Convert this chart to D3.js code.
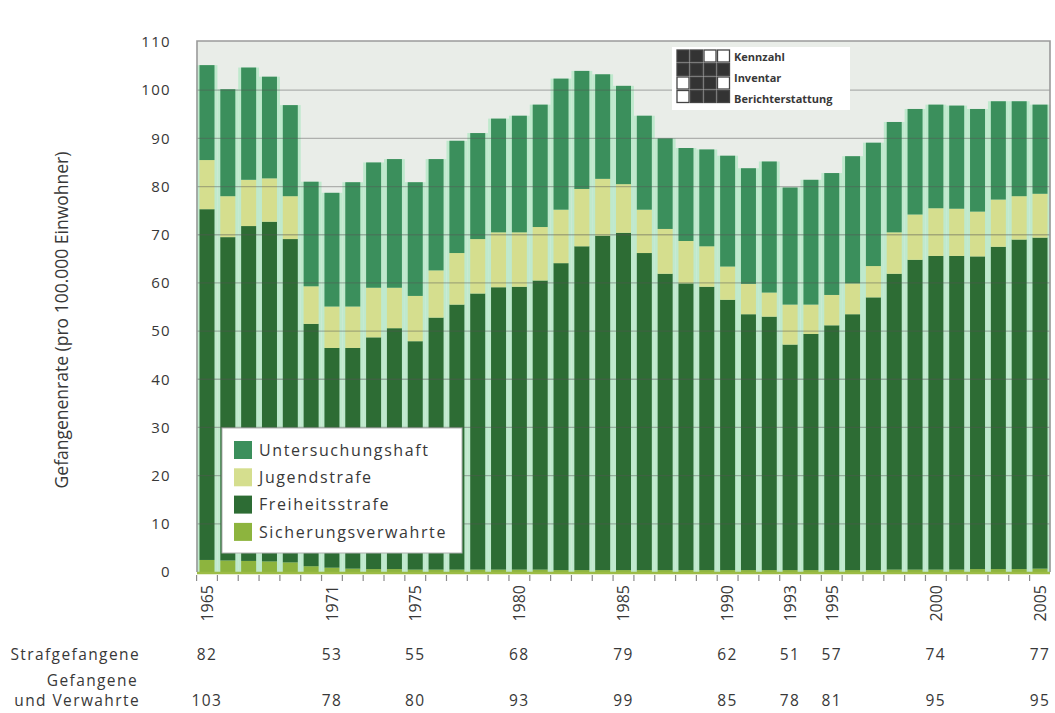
<!DOCTYPE html>
<html><head><meta charset="utf-8">
<script src="https://cdn.jsdelivr.net/npm/d3@7/dist/d3.min.js"></script>
<style>
body{margin:0;background:#fff}
svg{display:block}
text{font-family:"Open Sans",sans-serif;fill:#383838}
</style>
</head><body>
<svg id="chart" width="1055" height="713"></svg>
<script>
// ---- data ----
const years = [1965,1966,1967,1968,1969,1970,1971,1972,1973,1974,1975,1976,1977,1978,1979,1980,
  1981,1982,1983,1984,1985,1986,1987,1988,1989,1990,1991,1992,1993,1994,1995,1996,1997,1998,1999,
  2000,2001,2002,2003,2004,2005];
const sicherungsverwahrte = [2.5,2.4,2.3,2.2,2.0,1.2,0.9,0.7,0.6,0.6,0.5,0.5,0.5,0.5,0.5,0.5,
  0.5,0.4,0.4,0.4,0.4,0.4,0.4,0.4,0.4,0.4,0.4,0.4,0.4,0.4,0.4,0.4,0.4,0.5,0.5,
  0.5,0.5,0.6,0.6,0.6,0.7];
const freiheitsstrafe = [72.8,67.1,69.5,70.5,67.1,50.3,45.6,45.8,48.1,50.0,47.4,52.3,55.0,57.3,58.6,58.7,
  60.0,63.7,67.2,69.4,70.0,65.8,61.5,59.5,58.8,56.1,53.1,52.6,46.8,49.0,50.8,53.1,56.6,61.4,64.3,
  65.1,65.1,64.9,66.9,68.4,68.7];
const jugendstrafe = [10.2,8.5,9.6,9.0,8.9,7.8,8.6,8.6,10.3,8.4,9.4,9.8,10.7,11.3,11.4,11.3,
  11.1,11.1,11.9,11.8,10.1,9.0,9.3,8.8,8.4,6.9,6.3,5.0,8.3,6.1,6.3,6.4,6.5,8.6,9.4,
  9.9,9.8,9.3,9.8,9.0,9.1];
const untersuchungshaft = [19.7,22.2,23.3,21.1,18.9,21.7,23.6,25.8,26.0,26.7,23.6,23.1,23.3,22.0,23.6,24.2,
  25.4,27.2,24.5,21.7,20.4,19.5,18.8,19.3,20.1,23.0,24.0,27.2,24.3,25.9,25.3,26.4,25.6,22.9,21.9,
  21.5,21.4,21.3,20.4,19.7,18.5];
const yTicks = [0,10,20,30,40,50,60,70,80,90,100,110];
const labelYears = [1965,1971,1975,1980,1985,1990,1993,1995,2000,2005];
const strafgefangene = [82,53,55,68,79,62,51,57,74,77];
const gefangeneVerwahrte = [103,78,80,93,99,85,78,81,95,95];
const seriesKeys = ["Sicherungsverwahrte","Freiheitsstrafe","Jugendstrafe","Untersuchungshaft"];
const legendOrder = ["Untersuchungshaft","Jugendstrafe","Freiheitsstrafe","Sicherungsverwahrte"];
const boxLabels = ["Kennzahl","Inventar","Berichterstattung"];
const iconPattern = [[1,1,0,0],[1,1,1,1],[0,1,1,0],[0,1,1,1]];

// ---- styles ----
const colors = {
  "Untersuchungshaft":"#3b8f5c",
  "Jugendstrafe":"#d5de8e",
  "Freiheitsstrafe":"#2d6c34",
  "Sicherungsverwahrte":"#8db43e"
};
const M = {left:197, right:1050, top:42, bottom:572};

const rows = years.map((yr,i)=>({year:yr,
  Sicherungsverwahrte:sicherungsverwahrte[i],
  Freiheitsstrafe:freiheitsstrafe[i],
  Jugendstrafe:jugendstrafe[i],
  Untersuchungshaft:untersuchungshaft[i]}));
const stacked = d3.stack().keys(seriesKeys)(rows);

const svg = d3.select("#chart");
const x = d3.scaleBand().domain(years).range([M.left, M.right]).paddingInner(0.28).paddingOuter(0.12);
const y = d3.scaleLinear().domain([0,110]).range([M.bottom, M.top]);
const step = x.step();
const gapHalf = (step - x.bandwidth())/2;

// plot background
svg.append("rect").attr("x",M.left).attr("y",M.top-1).attr("width",M.right-M.left).attr("height",M.bottom-M.top+1)
  .attr("fill","#e9ede8");

// mint column backgrounds (gaps between bars)
const topLayer = stacked[stacked.length-1];
svg.append("g").selectAll("rect").data(topLayer).join("rect")
  .attr("x",d=>x(d.data.year)-gapHalf)
  .attr("width",step)
  .attr("y",d=>y(d[1]))
  .attr("height",d=>y(0)-y(d[1]))
  .attr("fill","#bfe9cd");

// stacked bars
svg.append("g").selectAll("g").data(stacked).join("g")
  .attr("fill",s=>colors[s.key])
  .selectAll("rect").data(s=>s).join("rect")
  .attr("x",d=>x(d.data.year))
  .attr("width",x.bandwidth())
  .attr("y",d=>y(d[1]))
  .attr("height",d=>y(d[0])-y(d[1]));

// gridlines (on top, translucent)
svg.append("g").selectAll("line").data(yTicks.filter(t=>t>0&&t<110)).join("line")
  .attr("x1",M.left).attr("x2",M.right)
  .attr("y1",d=>y(d)).attr("y2",d=>y(d))
  .attr("stroke","#555").attr("stroke-opacity",0.4).attr("stroke-width",1.3);

// frame
svg.append("path")
  .attr("d",`M${M.left},${M.bottom}V${M.top-1}H${M.right}V${M.bottom}`)
  .attr("fill","none").attr("stroke","#9a9a9a").attr("stroke-width",1.6);

// baseline
svg.append("line").attr("x1",M.left).attr("x2",M.right).attr("y1",y(0)+1).attr("y2",y(0)+1)
  .attr("stroke","#9cbc45").attr("stroke-width",2.5);

// x ticks at band boundaries
svg.append("g").selectAll("line").data(years).join("line")
  .attr("x1",d=>x(d)-gapHalf).attr("x2",d=>x(d)-gapHalf)
  .attr("y1",y(0)+3).attr("y2",y(0)+9)
  .attr("stroke","#8a8a8a").attr("stroke-width",1.2);

// y axis labels
const yAxis = d3.axisLeft(y).tickValues(yTicks).tickSize(0).tickPadding(26);
const gy = svg.append("g").attr("transform",`translate(${M.left},0)`).call(yAxis);
gy.select(".domain").remove();
gy.selectAll("text").style("font-family","'Open Sans',sans-serif").style("font-size","15px")
  .style("letter-spacing","1.3px").attr("fill","#383838");

// y axis title
svg.append("text").attr("transform",`translate(62,${(150+490)/2}) rotate(-90)`)
  .attr("text-anchor","middle").attr("dy","0.35em").style("font-size","17.5px")
  .text("Gefangenenrate (pro 100.000 Einwohner)");

// x labels
svg.append("g").selectAll("text").data(labelYears).join("text")
  .attr("transform",d=>`translate(${x(d)+x.bandwidth()/2},585) rotate(-90)`)
  .attr("text-anchor","end").attr("dy","0.36em").style("font-size","16px")
  .text(d=>d);

// table rows
const rowFont = {"font-size":"15.5px","letter-spacing":"1.4px"};
function styled(sel){ Object.entries(rowFont).forEach(([k,v])=>sel.style(k,v)); return sel; }
styled(svg.append("text").attr("x",140).attr("y",660).attr("text-anchor","end")).text("Strafgefangene");
styled(svg.append("text").attr("x",138).attr("y",686).attr("text-anchor","end")).text("Gefangene");
styled(svg.append("text").attr("x",140).attr("y",706).attr("text-anchor","end")).text("und Verwahrte");
styled(svg.append("g").selectAll("text").data(labelYears).join("text")
  .attr("x",d=>x(d)+x.bandwidth()/2).attr("y",660).attr("text-anchor","middle"))
  .text((d,i)=>strafgefangene[i]);
styled(svg.append("g").selectAll("text").data(labelYears).join("text")
  .attr("x",d=>x(d)+x.bandwidth()/2).attr("y",706).attr("text-anchor","middle"))
  .text((d,i)=>gefangeneVerwahrte[i]);

// legend bottom-left
const lg = svg.append("g").attr("transform","translate(222,428)");
lg.append("rect").attr("width",240).attr("height",125).attr("fill","#fff").attr("stroke","#b0b0b0").attr("stroke-width",1);
const li = lg.selectAll("g").data(legendOrder).join("g").attr("transform",(d,i)=>`translate(12,${22+i*27.3})`);
li.append("rect").attr("x",0).attr("y",-9).attr("width",18).attr("height",18).attr("fill",d=>colors[d]);
li.append("text").attr("x",25).attr("dy","0.35em").style("font-size","16px").style("letter-spacing","1.6px").text(d=>d);

// top-right box
const tb = svg.append("g").attr("transform","translate(672,47)");
tb.append("rect").attr("width",178).attr("height",63).attr("fill","#fff");
const cell = 13.5;
iconPattern.forEach((row,r)=>row.forEach((v,c)=>{
  tb.append("rect").attr("x",5+c*cell).attr("y",3+r*cell).attr("width",cell-1.5).attr("height",cell-1.5)
    .attr("fill",v?"#333":"#fff").attr("stroke","#444").attr("stroke-width",1.3);
}));
tb.selectAll("text.bl").data(boxLabels).join("text").attr("class","bl")
  .attr("x",62).attr("y",(d,i)=>14+i*21).style("font-size","11px").style("font-weight","bold")
  .attr("fill","#222").text(d=>d);
</script>
</body></html>
